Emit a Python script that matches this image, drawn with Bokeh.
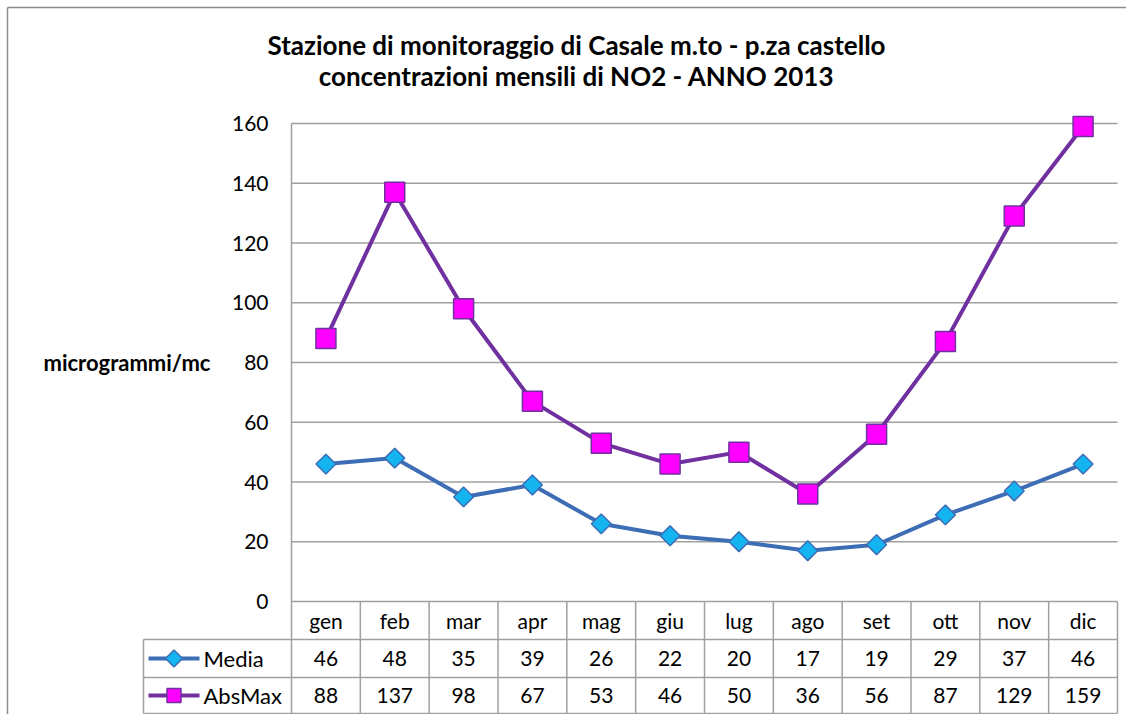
import math
from bokeh.plotting import figure
from bokeh.models import Range1d, LinearAxis, FixedTicker
from bokeh.core.properties import value
from bokeh.embed import file_html
from bokeh.resources import INLINE

# ---- data ----
months = ["gen", "feb", "mar", "apr", "mag", "giu", "lug", "ago", "set", "ott", "nov", "dic"]
media = [46, 48, 35, 39, 26, 22, 20, 17, 19, 29, 37, 46]
absmax = [88, 137, 98, 67, 53, 46, 50, 36, 56, 87, 129, 159]
y_ticks = [0, 20, 40, 60, 80, 100, 120, 140, 160]
series_names = ["Media", "AbsMax"]
title_lines = ["Stazione di monitoraggio di Casale m.to - p.za castello",
               "concentrazioni mensili di NO2 - ANNO 2013"]
y_label = "microgrammi/mc"

# ---- geometry (canvas pixels) ----
W, H = 1126, 714
px_left, px_right = 291, 1117
px_top, px_zero = 123, 601
n = len(months)
colw = (px_right - px_left) / n
ymax = 160
ppu = (px_zero - px_top) / ymax
x_start = -0.5 - px_left / colw
x_end = x_start + W / colw
y_end = ymax + px_top / ppu
y_start = y_end - H / ppu

def dx(px):
    return px / colw

def dy(px):
    return px / ppu

def cx(px):  # canvas x pixel -> data x
    return x_start + dx(px)

def cy(py):  # canvas y pixel (from top) -> data y
    return y_end - dy(py)

FONT = "Lato"
GRID = "#a0a0a0"
c_media, c_media_fill = "#3d6db5", "#14b4f0"
c_abs, c_abs_fill = "#7030a0", "#ff00ff"

p = figure(width=W, height=H, x_range=Range1d(x_start, x_end), y_range=Range1d(y_start, y_end),
           output_backend="svg", toolbar_location=None, min_border=0,
           x_axis_type=None, y_axis_type=None)
p.outline_line_color = None
p.background_fill_color = "white"
p.border_fill_color = "white"

# outer chart border (left and top visible)
p.segment(x0=[cx(7), cx(7)], x1=[cx(7), cx(W)], y0=[cy(7), cy(7)], y1=[cy(H), cy(7)],
          line_color="#8c8c8c", line_width=1.5)

# y axis at the plot-area left edge
yaxis = LinearAxis(fixed_location=-0.5, ticker=FixedTicker(ticks=y_ticks),
                   axis_line_color=None, major_tick_line_color=None, minor_tick_line_color=None,
                   major_tick_out=0, major_tick_in=0, major_label_standoff=23,
                   major_label_text_font=FONT, major_label_text_font_size="21px",
                   major_label_text_color="black")
p.add_layout(yaxis, "left")

# gridlines
gy = y_ticks[1:]
p.segment(x0=[-0.5] * len(gy), x1=[n - 0.5] * len(gy), y0=gy, y1=gy, line_color=GRID, line_width=1.5)

# table geometry
row_h = [38, 38, 36]
r1 = -dy(row_h[0])
r2 = r1 - dy(row_h[1])
r3 = r2 - dy(row_h[2])
leg_left = cx(143)

# vertical lines
p.segment(x0=[-0.5], x1=[-0.5], y0=[ymax], y1=[r3], line_color=GRID, line_width=1.5)
vx = [i + 0.5 for i in range(n)]
p.segment(x0=vx, x1=vx, y0=[0] * n, y1=[r3] * n, line_color=GRID, line_width=1.5)
p.segment(x0=[leg_left], x1=[leg_left], y0=[r1], y1=[r3], line_color=GRID, line_width=1.5)
# horizontal table lines
p.segment(x0=[-0.5], x1=[n - 0.5], y0=[0], y1=[0], line_color=GRID, line_width=1.5)
p.segment(x0=[leg_left] * 3, x1=[n - 0.5] * 3, y0=[r1, r2, r3], y1=[r1, r2, r3],
          line_color=GRID, line_width=1.5)

xs = list(range(n))

# series lines and markers
p.line(xs, absmax, line_color=c_abs, line_width=4)
p.scatter(xs, absmax, marker="square", size=20, fill_color=c_abs_fill, line_color=c_abs, line_width=1.5)
p.line(xs, media, line_color=c_media, line_width=4)
p.scatter(xs, media, marker="square", angle=math.pi / 4, size=14, fill_color=c_media_fill,
          line_color=c_media, line_width=1.5)

# header row (months)
p.text(x=xs, y=[r1 / 2] * n, text=months, text_align="center", text_baseline="middle",
       text_font=value(FONT), text_font_size="21px", text_color="black")
# value rows
ym = (r1 + r2) / 2
ya = (r2 + r3) / 2
p.text(x=xs, y=[ym] * n, text=[str(v) for v in media], text_align="center", text_baseline="middle",
       text_font=value(FONT), text_font_size="21px", text_color="black")
p.text(x=xs, y=[ya] * n, text=[str(v) for v in absmax], text_align="center", text_baseline="middle",
       text_font=value(FONT), text_font_size="21px", text_color="black")

# legend keys in table
kx0, kx1 = cx(148), cx(199)
kxm = (kx0 + kx1) / 2
p.segment(x0=[kx0], x1=[kx1], y0=[ym], y1=[ym], line_color=c_media, line_width=4)
p.scatter([kxm], [ym], marker="square", angle=math.pi / 4, size=12, fill_color=c_media_fill,
          line_color=c_media, line_width=1.5)
p.segment(x0=[kx0], x1=[kx1], y0=[ya], y1=[ya], line_color=c_abs, line_width=4)
p.scatter([kxm], [ya], marker="square", size=14, fill_color=c_abs_fill, line_color=c_abs, line_width=1.5)
p.text(x=[cx(203)] * 2, y=[ym, ya], text=series_names, text_align="left", text_baseline="middle",
       text_font=value(FONT), text_font_size="22px", text_color="black")

# title
p.text(x=[cx(576)] * 2, y=[cy(44), cy(75)], text=title_lines, text_align="center",
       text_baseline="middle", text_font=value(FONT), text_font_size="26px",
       text_font_style="bold", text_color="black")

# y-axis label
p.text(x=[cx(43)], y=[80], text=[y_label], text_align="left", text_baseline="middle",
       text_font=value(FONT), text_font_size="22px", text_font_style="bold", text_color="black")

open("out.html", "w").write(file_html(p, INLINE))
